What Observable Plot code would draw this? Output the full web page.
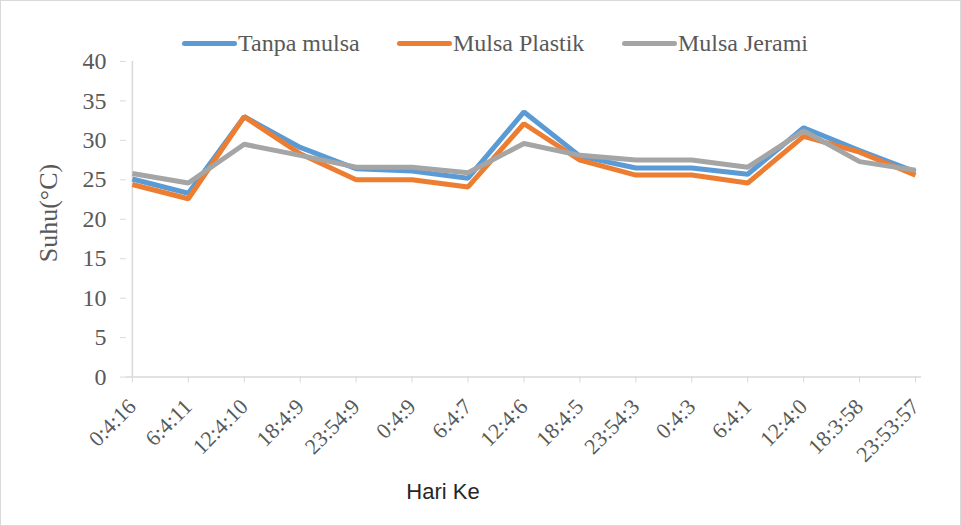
<!DOCTYPE html>
<html>
<head>
<meta charset="utf-8">
<script src="https://cdn.jsdelivr.net/npm/d3@7"></script>
<script src="https://cdn.jsdelivr.net/npm/@observablehq/plot@0.6"></script>
<style>
  html, body { margin: 0; padding: 0; background: #fff; }
  #wrap { position: relative; width: 961px; height: 526px; box-sizing: border-box; border: 1px solid #d9d9d9; overflow: hidden; }
  #chart { position: absolute; left: -1px; top: -1px; }
  #legend { position: absolute; top: 29px; left: 0; width: 961px; font-family: "Liberation Serif", "Times New Roman", serif; font-size: 24px; color: #595959; }
  .item { position: absolute; display: flex; align-items: center; white-space: nowrap; }
  .swatch { width: 55px; height: 5px; border-radius: 3px; margin-right: 1px; }
  #xtitle { position: absolute; left: 0; width: 884px; text-align: center; top: 478px; font-family: "Liberation Sans", Arial, sans-serif; font-size: 22px; color: #262626; }
  #ytitle { position: absolute; left: 48px; top: 212px; transform: translate(-50%, -50%) rotate(-90deg); font-family: "Liberation Serif", "Times New Roman", serif; font-size: 26px; color: #595959; white-space: nowrap; }
</style>
</head>
<body>
<div id="wrap">
  <div id="chart"></div>
  <div id="legend"></div>
  <div id="xtitle">Hari Ke</div>
  <div id="ytitle">Suhu(°C)</div>
</div>
<script>
const times = ["0:4:16","6:4:11","12:4:10","18:4:9","23:54:9","0:4:9","6:4:7","12:4:6","18:4:5","23:54:3","0:4:3","6:4:1","12:4:0","18:3:58","23:53:57"];
const seriesNames = ["Tanpa mulsa","Mulsa Plastik","Mulsa Jerami"];
const tanpaMulsa   = [25.1, 23.3, 33.0, 29.1, 26.4, 26.1, 25.2, 33.6, 28.0, 26.5, 26.5, 25.7, 31.6, 28.7, 26.0];
const mulsaPlastik = [24.4, 22.6, 33.0, 28.3, 25.0, 25.0, 24.1, 32.1, 27.5, 25.6, 25.6, 24.6, 30.5, 28.5, 25.6];
const mulsaJerami  = [25.8, 24.6, 29.5, 28.1, 26.6, 26.6, 25.9, 29.6, 28.1, 27.5, 27.5, 26.6, 31.2, 27.3, 26.2];
const colors = ["#5B9BD5", "#ED7D31", "#A5A5A5"];
const yTicks = [0, 5, 10, 15, 20, 25, 30, 35, 40];

const allSeries = [tanpaMulsa, mulsaPlastik, mulsaJerami];
const data = [];
allSeries.forEach((vals, si) => vals.forEach((v, i) => data.push({series: seriesNames[si], time: times[i], value: v})));

const chart = Plot.plot({
  width: 961,
  height: 526,
  marginLeft: 126,
  marginRight: 39,
  marginTop: 61,
  marginBottom: 149,
  style: { fontFamily: "'Liberation Serif', 'Times New Roman', serif", color: "#595959", background: "transparent" },
  x: { type: "point", domain: times, label: null, padding: 0 },
  y: { domain: [0, 40], label: null },
  color: { domain: seriesNames, range: colors },
  marks: [
    Plot.ruleY([0], { stroke: "#d9d9d9", strokeWidth: 1.5 }),
    Plot.ruleX([times[0]], { stroke: "#d9d9d9", strokeWidth: 1.5 }),
    Plot.axisY({ ticks: yTicks, tickSize: 6, tickPadding: 14, fontSize: 24, stroke: "#d9d9d9", fill: "#595959", label: null }),
    Plot.axisX({ tickSize: 6, tickPadding: 20, tickRotate: -45, fontSize: 22, stroke: "#d9d9d9", fill: "#595959", label: null }),
    Plot.lineY(data, { x: "time", y: "value", z: "series", stroke: "series", strokeWidth: 5, strokeLinejoin: "miter", strokeLinecap: "butt" })
  ]
});
document.getElementById("chart").appendChild(chart);

const legendPos = [181, 396, 621];
const legend = document.getElementById("legend");
seriesNames.forEach((name, i) => {
  const item = document.createElement("div");
  item.className = "item";
  item.style.left = legendPos[i] + "px";
  const sw = document.createElement("div");
  sw.className = "swatch";
  sw.style.background = colors[i];
  const t = document.createElement("span");
  t.textContent = name;
  item.appendChild(sw);
  item.appendChild(t);
  legend.appendChild(item);
});
</script>
</body>
</html>
